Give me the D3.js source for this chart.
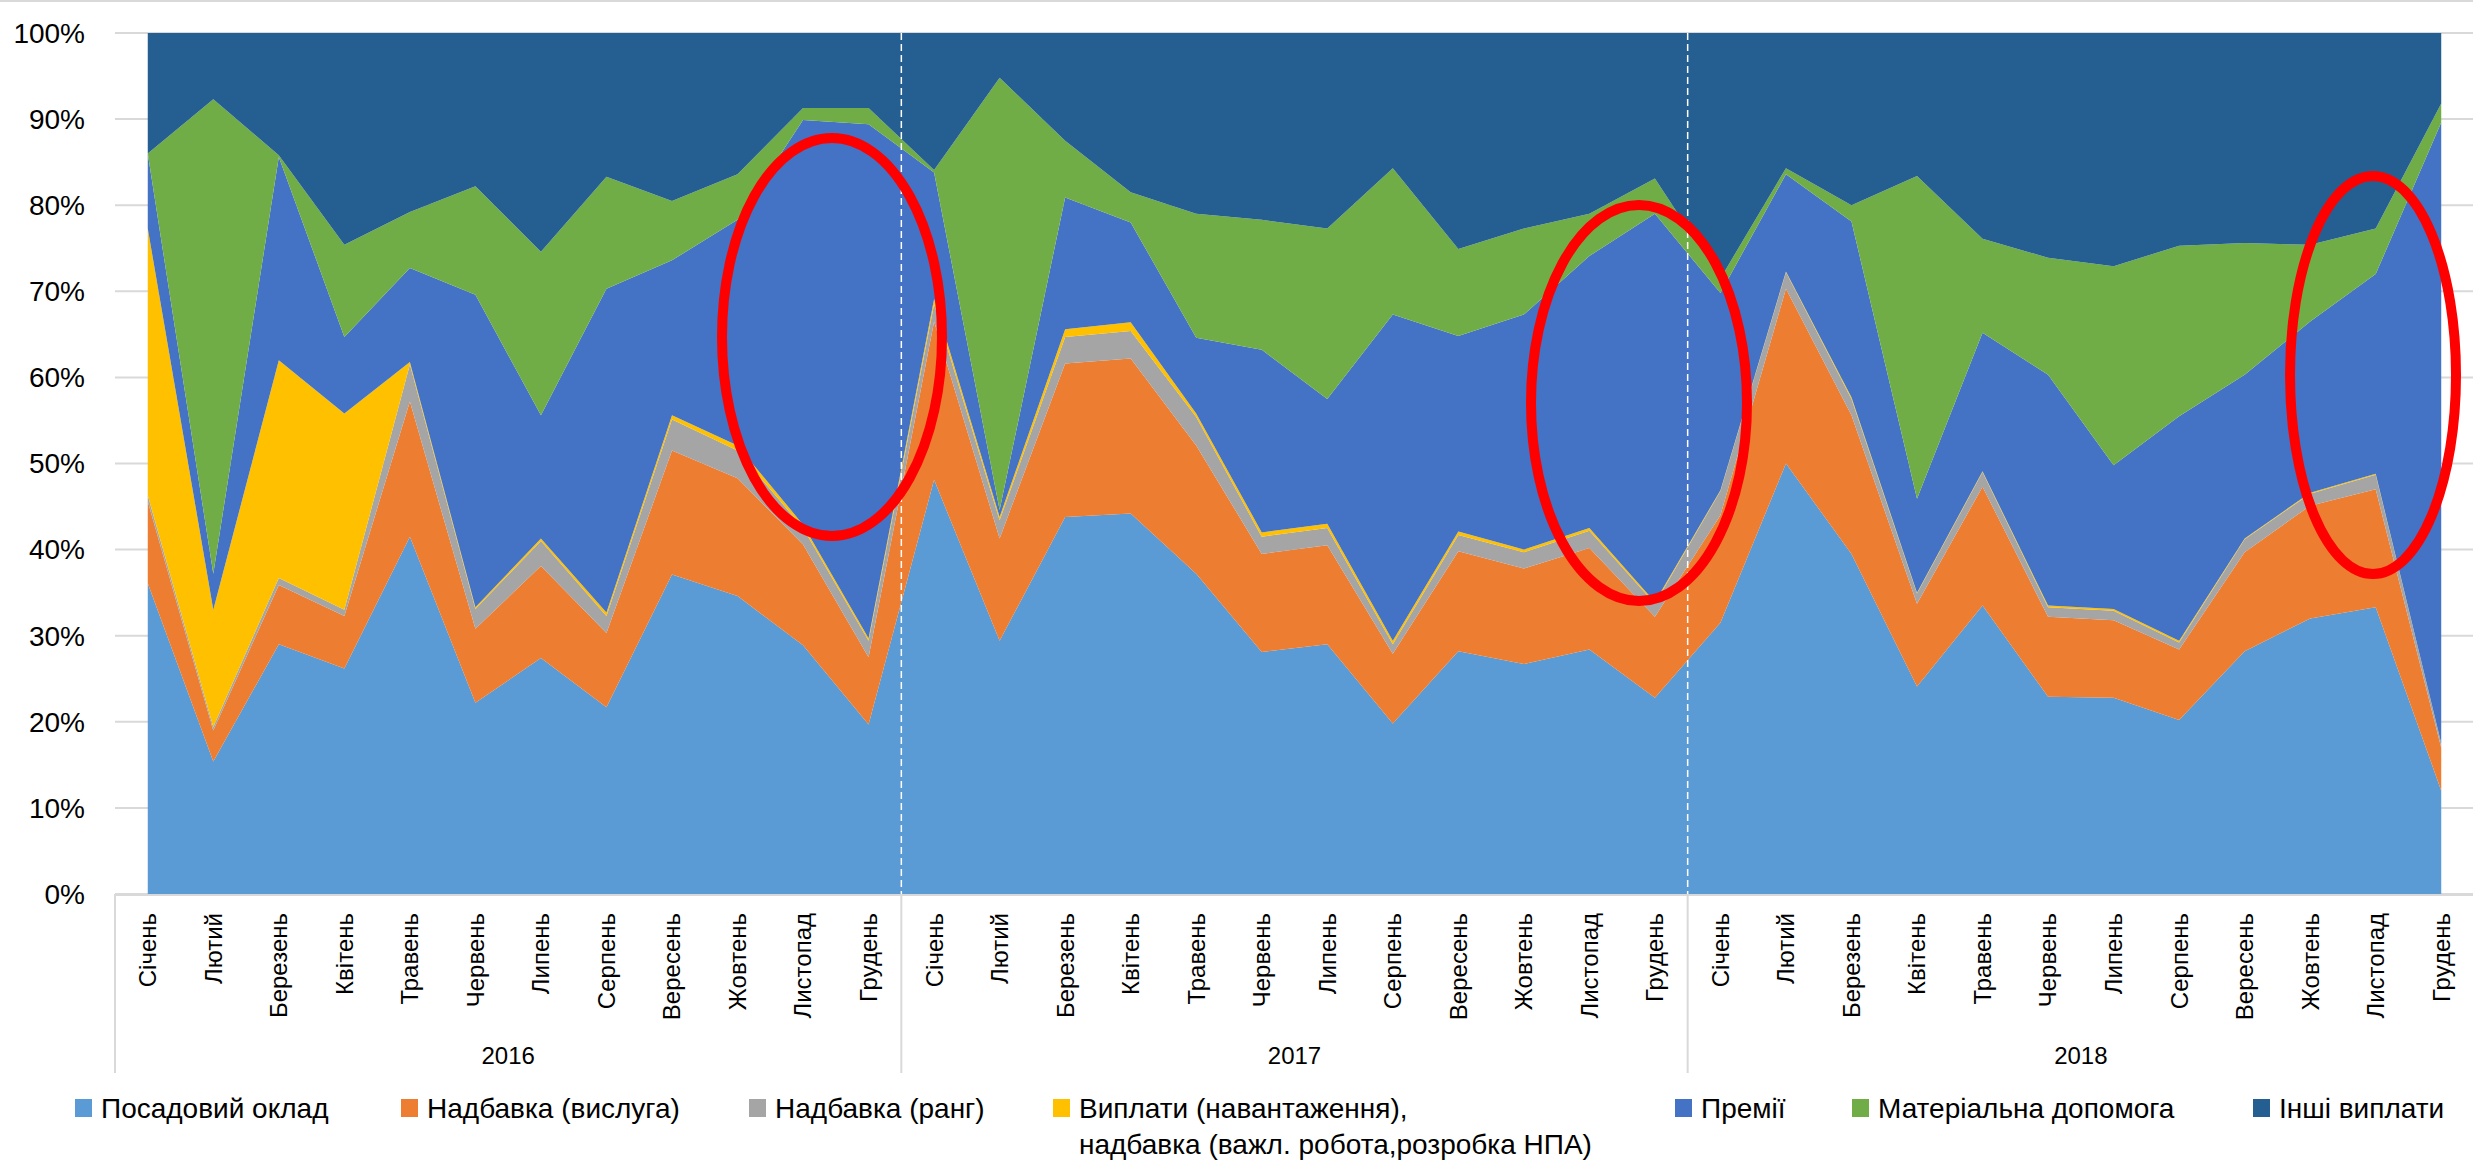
<!DOCTYPE html>
<html>
<head>
<meta charset="utf-8">
<script src="https://cdn.jsdelivr.net/npm/d3@7"></script>
<style>
  body { margin: 0; background: #fff; }
  svg { display: block; font-family: "Liberation Sans", Arial, sans-serif; }
</style>
</head>
<body>
<div id="chart"></div>
<script>
// Категорії
const months = ["Січень", "Лютий", "Березень", "Квітень", "Травень", "Червень",
  "Липень", "Серпень", "Вересень", "Жовтень", "Листопад", "Грудень"]
const years = ["2016", "2017", "2018"]
const yTicks = [0, 0.1, 0.2, 0.3, 0.4, 0.5, 0.6, 0.7, 0.8, 0.9, 1]

// Частки виплат, %
const posadovyi = [36.1, 15.4, 29.0, 26.2, 41.5, 22.2, 27.4, 21.7, 37.1, 34.6, 28.9, 19.7,
  48.1, 29.4, 43.8, 44.2, 37.2, 28.1, 29.0, 19.8, 28.2, 26.7, 28.4, 22.8,
  31.5, 50.0, 39.5, 24.1, 33.5, 22.9, 22.8, 20.2, 28.2, 32.0, 33.3, 12.0]
const vysluga = [9.5, 3.6, 6.9, 6.1, 15.7, 8.6, 10.7, 8.6, 14.4, 13.7, 11.7, 7.8,
  18.4, 11.9, 17.8, 18.0, 14.9, 11.4, 11.5, 8.1, 11.6, 11.1, 11.8, 9.4,
  12.5, 20.3, 16.1, 9.6, 13.8, 9.3, 9.0, 8.2, 11.5, 13.1, 13.7, 5.0]
const rang = [0.7, 0.4, 0.8, 0.7, 4.3, 2.3, 2.9, 2.0, 3.6, 3.2, 1.9, 1.9,
  2.0, 2.1, 3.1, 3.2, 3.3, 2.0, 2.0, 1.1, 1.9, 1.9, 2.0, 1.5,
  2.8, 1.9, 1.9, 1.2, 1.7, 1.1, 1.1, 0.8, 1.5, 1.4, 1.7, 0.5]
const vyplaty = [31.0, 13.6, 25.3, 22.8, 0.3, 0.2, 0.3, 0.4, 0.5, 0.6, 0.4, 0.3,
  0.6, 0.4, 0.9, 1.0, 0.4, 0.5, 0.5, 0.4, 0.4, 0.3, 0.3, 0.2,
  0.1, 0.1, 0.2, 0.1, 0.1, 0.2, 0.2, 0.2, 0.1, 0.1, 0.1, 0.0]
const premii = [8.7, 4.2, 23.6, 8.9, 10.9, 36.3, 14.3, 37.6, 18.0, 26.2, 47.0, 59.7,
  14.7, 0.8, 15.3, 11.6, 8.8, 21.2, 14.5, 37.9, 22.7, 27.3, 31.6, 45.1,
  22.9, 11.3, 20.4, 10.9, 16.1, 26.8, 16.7, 26.1, 19.0, 19.9, 23.2, 72.1]
const matdop = [0.0, 55.1, 0.2, 10.7, 6.5, 12.6, 19.0, 13.0, 6.9, 5.3, 1.4, 1.9,
  0.3, 50.2, 6.6, 3.5, 14.4, 15.1, 19.8, 17.0, 10.1, 10.0, 4.9, 4.1,
  1.7, 0.7, 1.9, 37.5, 10.9, 13.6, 23.1, 19.8, 15.3, 8.9, 5.3, 2.2]
const inshi = [14.0, 7.7, 14.2, 24.6, 20.8, 17.8, 25.4, 16.7, 19.5, 16.4, 8.7, 8.7,
  15.9, 5.2, 12.5, 18.5, 21.0, 21.7, 22.7, 15.7, 25.1, 22.7, 21.0, 16.9,
  28.5, 15.7, 20.0, 16.6, 23.9, 26.1, 27.1, 24.7, 24.4, 24.6, 22.7, 8.2]

const series = [
  {key: "posadovyi", name: "Посадовий оклад", values: posadovyi, color: "#5B9BD5"},
  {key: "vysluga", name: "Надбавка (вислуга)", values: vysluga, color: "#ED7D31"},
  {key: "rang", name: "Надбавка (ранг)", values: rang, color: "#A5A5A5"},
  {key: "vyplaty", name: "Виплати (навантаження),|надбавка (важл. робота,розробка НПА)", values: vyplaty, color: "#FFC000"},
  {key: "premii", name: "Премії", values: premii, color: "#4472C4"},
  {key: "matdop", name: "Матеріальна допомога", values: matdop, color: "#70AD47"},
  {key: "inshi", name: "Інші виплати", values: inshi, color: "#255E91"}
]

// Розміри
const W = 2473, H = 1164
const plot = {left: 115, right: 2474, top: 33, bottom: 894}

const svg = d3.select("#chart").append("svg")
  .attr("width", W)
  .attr("height", H)

// рамка зверху
svg.append("line")
  .attr("x1", 0).attr("x2", W).attr("y1", 1).attr("y2", 1)
  .attr("stroke", "#d9d9d9").attr("stroke-width", 2)

// таблиця для стеку
const rows = years.flatMap(y => months.map(m => ({year: y, month: m})))
rows.forEach((r, i) => series.forEach(s => r[s.key] = s.values[i]))

const x = d3.scaleBand()
  .domain(d3.range(rows.length))
  .range([plot.left, plot.right])
const cx = i => x(i) + x.bandwidth() / 2

const y = d3.scaleLinear()
  .domain([0, 1])
  .range([plot.bottom, plot.top])

// сітка
svg.append("g")
  .selectAll("line")
  .data(yTicks)
  .join("line")
    .attr("x1", plot.left).attr("x2", W)
    .attr("y1", d => y(d)).attr("y2", d => y(d))
    .attr("stroke", "#d9d9d9").attr("stroke-width", 2)

// підписи осі Y
svg.append("g")
  .selectAll("text")
  .data(yTicks)
  .join("text")
    .attr("x", 85)
    .attr("y", d => y(d))
    .attr("dy", "0.35em")
    .attr("text-anchor", "end")
    .attr("font-size", "28px")
    .attr("fill", "#000")
    .text(d => d3.format(".0%")(d))

// області
const stack = d3.stack()
  .keys(series.map(s => s.key))
  .offset(d3.stackOffsetExpand)
const layers = stack(rows)

const area = d3.area()
  .x((d, i) => cx(i))
  .y0(d => y(d[0]))
  .y1(d => y(d[1]))

svg.append("g")
  .selectAll("path")
  .data(layers)
  .join("path")
    .attr("d", area)
    .attr("fill", (d, i) => series[i].color)

// пунктир між роками
svg.append("g")
  .selectAll("line")
  .data([12, 24])
  .join("line")
    .attr("x1", d => x(d)).attr("x2", d => x(d))
    .attr("y1", plot.top).attr("y2", plot.bottom)
    .attr("stroke", "#fff").attr("stroke-width", 1.5)
    .attr("stroke-dasharray", "7,4")

// вісь X
svg.append("line")
  .attr("x1", plot.left).attr("x2", W)
  .attr("y1", plot.bottom + 1).attr("y2", plot.bottom + 1)
  .attr("stroke", "#d9d9d9").attr("stroke-width", 2)

svg.append("g")
  .selectAll("line")
  .data([0, 12, 24])
  .join("line")
    .attr("x1", d => x(d)).attr("x2", d => x(d))
    .attr("y1", plot.bottom).attr("y2", 1073)
    .attr("stroke", "#d9d9d9").attr("stroke-width", 2)

svg.append("g")
  .selectAll("text")
  .data(rows)
  .join("text")
    .attr("transform", (d, i) => `translate(${cx(i)},913) rotate(-90)`)
    .attr("dy", "0.35em")
    .attr("text-anchor", "end")
    .attr("font-size", "24px")
    .attr("fill", "#000")
    .text(d => d.month)

svg.append("g")
  .selectAll("text")
  .data(years)
  .join("text")
    .attr("x", (d, i) => (x(i * 12) + x(i * 12 + 11) + x.bandwidth()) / 2)
    .attr("y", 1056)
    .attr("dy", "0.35em")
    .attr("text-anchor", "middle")
    .attr("font-size", "24px")
    .attr("fill", "#000")
    .text(d => d)

// червоні позначки
const marks = [
  {cx: 832, cy: 337, rx: 110, ry: 199},
  {cx: 1639, cy: 403, rx: 108, ry: 198},
  {cx: 2373, cy: 375, rx: 83, ry: 199}
]
svg.append("g")
  .selectAll("ellipse")
  .data(marks)
  .join("ellipse")
    .attr("cx", d => d.cx).attr("cy", d => d.cy)
    .attr("rx", d => d.rx).attr("ry", d => d.ry)
    .attr("fill", "none")
    .attr("stroke", "#ff0000")
    .attr("stroke-width", 10)

// легенда
const legendX = [75, 401, 749, 1053, 1675, 1852, 2253]
const legend = svg.append("g")
  .selectAll("g")
  .data(series)
  .join("g")
    .attr("transform", (d, i) => `translate(${legendX[i]},1108)`)

legend.append("rect")
  .attr("x", 0).attr("y", -9)
  .attr("width", 17).attr("height", 18)
  .attr("fill", d => d.color)

legend.append("text")
  .attr("x", 26)
  .attr("font-size", "28px")
  .attr("fill", "#000")
  .selectAll("tspan")
  .data(d => d.name.split("|"))
  .join("tspan")
    .attr("x", 26)
    .attr("y", (d, i) => i * 36)
    .attr("dy", "0.35em")
    .text(d => d)
</script>
</body>
</html>
